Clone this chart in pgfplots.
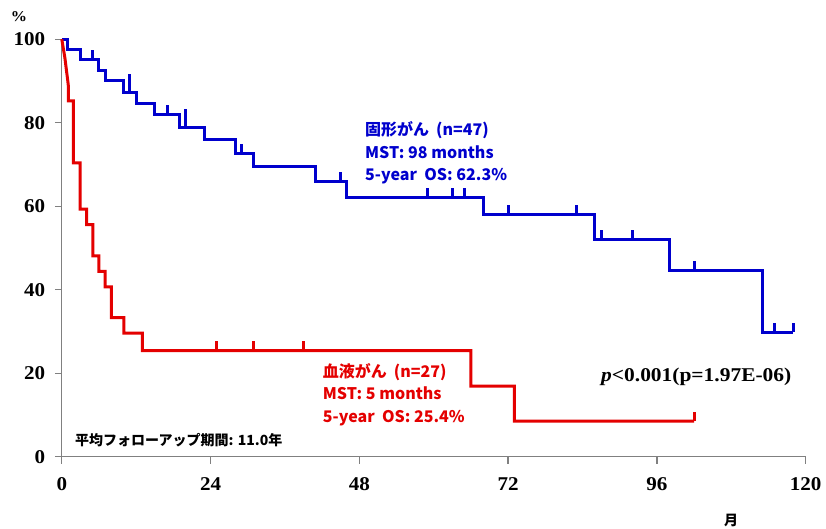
\documentclass[border=0pt]{standalone}
\usepackage{fontspec}
\setmainfont{Liberation Serif}
\newfontfamily\tnr{Liberation Serif}[FakeStretch=1.08]
\newfontfamily\tnrp{Liberation Serif}[FakeStretch=1.1]
\newfontfamily\jp{Noto Sans CJK JP}
\usepackage{pgfplots}
\pgfplotsset{compat=1.18}
\definecolor{kmblue}{RGB}{0,0,205}
\definecolor{kmred}{RGB}{228,0,0}
\definecolor{axgray}{RGB}{128,128,128}
\pgfdeclareplotmark{cens}{\pgfpathmoveto{\pgfpointorigin}\pgfpathlineto{\pgfpoint{0pt}{9.5pt}}\pgfusepathqstroke}
\pgfdeclareplotmark{censtall}{\pgfpathmoveto{\pgfpointorigin}\pgfpathlineto{\pgfpoint{0pt}{18pt}}\pgfusepathqstroke}
\begin{document}
\begin{tikzpicture}[x=1pt,y=1pt]
\useasboundingbox (0,0) rectangle (826,529);
\begin{axis}[
  at={(61.8pt,72.3pt)}, anchor=south west,
  scale only axis, width=743.8pt, height=417.5pt,
  xmin=0, xmax=120, ymin=0, ymax=100,
  clip=false,
  axis x line=bottom, axis y line=left,
  axis line style={-, draw=axgray, line width=1.3pt},
  xtick={0,24,48,72,96,120}, ytick={0,20,40,60,80,100},
  tick align=outside, major tick length=7pt,
  tick style={draw=axgray, line width=1.3pt},
  /pgf/number format/assume math mode=true,
  ticklabel style={font=\tnr\bfseries\fontsize{19.5}{21}\selectfont},
  xticklabel style={anchor=north, inner sep=0pt, yshift=-13.3pt},
  yticklabel style={anchor=east, inner sep=0pt, xshift=-9.5pt},
]
% solid tumours (blue)
\addplot[kmblue, line width=3pt, const plot, mark=none] coordinates {
 (0,100) (0.9,97.6) (3,95.1) (6,92.5) (7,90.0) (10,87.3) (12,84.7) (15,81.9)
 (19,78.9) (23,75.9) (28,72.7) (31,69.5) (41,66.0) (46,62.2) (68,58.0)
 (86,52.0) (98,44.6) (113,29.8) (118,29.8)};
\addplot[kmblue, only marks, mark=cens, mark options={line width=3pt}] coordinates {
 (5,95.1) (17,81.9) (29,72.7) (45,66.0) (59,62.2) (63,62.2) (65,62.2)
 (72,58.0) (83,58.0) (87,52.0) (92,52.0) (102,44.6) (115,29.8) (118,29.8)};
\addplot[kmblue, only marks, mark=censtall, mark options={line width=3pt}] coordinates {
 (11,87.3) (20,78.9)};
% haematological (red)
\addplot[kmred, line width=3pt, sharp plot, mark=none] coordinates {
 (0,100) (0.5,95.5) (0.95,90.2) (1.05,88.9) (1.05,85.2) (1.85,85.2) (1.85,70.4)
 (2.95,70.4) (2.95,59.3) (4,59.3) (4,55.6) (5,55.6) (5,48.1) (6,48.1) (6,44.4)
 (7,44.4) (7,40.7) (8,40.7) (8,33.3) (10,33.3) (10,29.6) (13,29.6) (13,25.4)
 (66,25.4) (66,16.9) (73,16.9) (73,8.5) (102,8.5)};
\addplot[kmred, only marks, mark=cens, mark options={line width=3pt}] coordinates {
 (25,25.4) (31,25.4) (39,25.4) (102,8.5)};
\end{axis}
% texts
\node[anchor=center, font=\tnr\bfseries\fontsize{15}{17}\selectfont] at (19,512) {\%};
\node[anchor=center, font=\jp\bfseries\fontsize{14}{16}\selectfont] at (731,9) {月};
\begin{scope}[every node/.style={anchor=base west, inner sep=0pt, text=kmblue, font=\jp\bfseries\fontsize{16}{18}\selectfont}]
\node at (365,393) {固形がん\hspace{7pt}(n=47)};
\node at (365,370.9) {MST: 98 months};
\node at (365,348.9) {5-year\ \ OS: 62.3\%};
\end{scope}
\begin{scope}[every node/.style={anchor=base west, inner sep=0pt, text=kmred, font=\jp\bfseries\fontsize{16}{18}\selectfont}]
\node at (322.7,151.5) {血液がん\hspace{7pt}(n=27)};
\node at (322.7,129.2) {MST: 5 months};
\node at (322.7,106.5) {5-year\ \ OS: 25.4\%};
\end{scope}
\node[anchor=base west, inner sep=0pt, font=\tnrp\bfseries\fontsize{19.5}{21}\selectfont] at (601,147.5) {\textit{p}<0.001(p=1.97E-06)};
\node[anchor=base west, inner sep=0pt, font=\jp\bfseries\fontsize{14}{16}\selectfont] at (75,83.7) {平均フォローアップ期間: 11.0年};
\end{tikzpicture}
\end{document}
